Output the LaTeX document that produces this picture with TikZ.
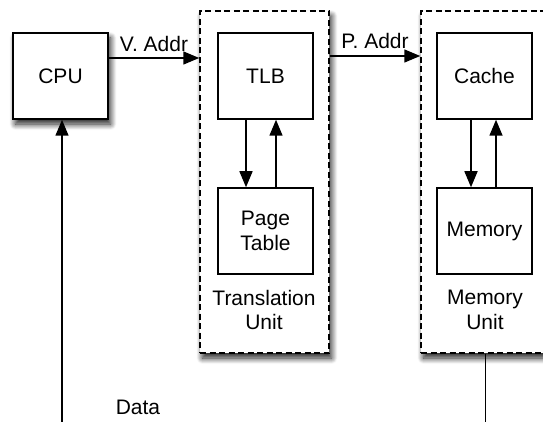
\documentclass[tikz,border=0pt]{standalone}
\usepackage{fontspec}
\setmainfont{Liberation Sans}
\usetikzlibrary{arrows.meta,shadows.blur,calc}
\begin{document}
\begin{tikzpicture}[x=1pt,y=-1pt,
  font=\fontsize{21}{24.5}\selectfont,
  line width=1.5pt,
  arr/.style={-{Triangle[length=16pt,width=13pt]}},
  box/.style={draw,fill=white,minimum width=95pt,minimum height=86pt,inner sep=0pt,align=center},
  unitbox/.style={draw,fill=white,dash pattern=on 6pt off 3.5pt,minimum width=129pt,minimum height=342pt,inner sep=0pt},
  shad/.style={blur shadow={shadow xshift=2.5pt,shadow yshift=-5pt,shadow blur radius=6pt,shadow blur steps=12,shadow opacity=90}},
  lbl/.style={inner sep=0pt,align=center}
]
\useasboundingbox (0,0) rectangle (543,422);
% units
\node[unitbox,shad] (TU) at (264.5,182) {};
\node[unitbox,shad] (MU) at (485.5,182) {};
% boxes
\node[box,shad] (CPU) at (60.5,76) {CPU};
\node[box] (TLB) at (265.5,76) {TLB};
\node[box] (PT) at (265.5,231) {Page\\Table};
\node[box] (CA) at (484.5,76) {Cache};
\node[box] (MEM) at (484.5,231) {Memory};
% unit labels
\node[lbl] (TUL) at (264,310) {Translation\\Unit};
\node[lbl] (MUL) at (485,310) {Memory\\Unit};
\node[lbl] (DATA) at (138,407) {Data};
% address arrows
\draw[arr] ([yshift=18pt]CPU.east) -- ([yshift=18pt]CPU.east -| TU.west)
  node[midway,above=6pt,inner sep=0pt] (VA) {V. Addr};
\draw[arr] ([yshift=20pt]TLB.east -| TU.east) -- ([yshift=20pt]TLB.east -| MU.west)
  node[midway,above=7pt,inner sep=0pt] (PA) {P. Addr};
% inner arrows
\draw[arr] ([xshift=-19.5pt]TLB.south) -- ([xshift=-19.5pt]PT.north);
\draw[arr] ([xshift=10.5pt]PT.north) -- ([xshift=10.5pt]TLB.south);
\draw[arr] ([xshift=-13.5pt]CA.south) -- ([xshift=-13.5pt]MEM.north);
\draw[arr] ([xshift=11.5pt]MEM.north) -- ([xshift=11.5pt]CA.south);
% data path
\coordinate (cpubot) at (62,423);
\coordinate (membot) at (485.5,423);
\draw (MU.south) -- (membot);
\draw[arr] (cpubot) -- (cpubot |- CPU.south);
\end{tikzpicture}
\end{document}
